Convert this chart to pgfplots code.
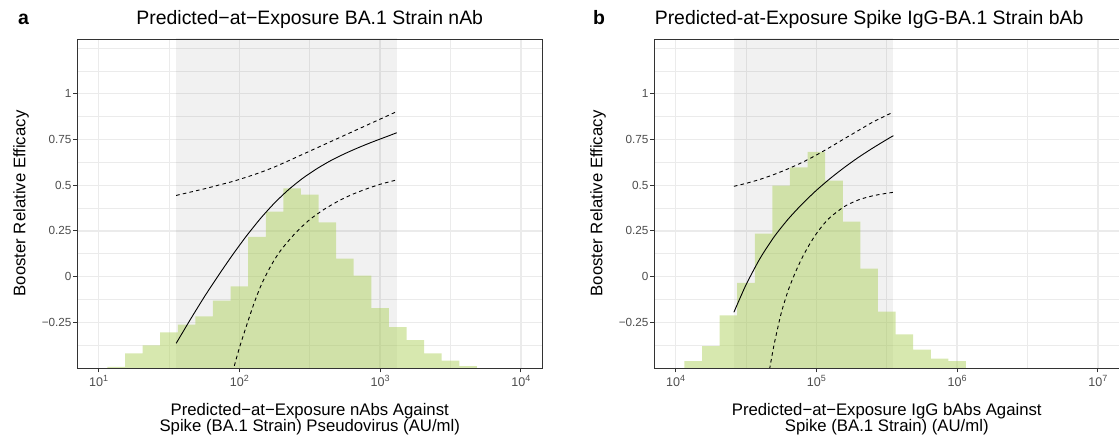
\documentclass[border=0pt]{standalone}
\usepackage{pgfplots}
\pgfplotsset{compat=1.18}
\usepackage{fontspec}
\setmainfont{Liberation Sans}
\definecolor{gridc}{RGB}{235,235,235}
\definecolor{framec}{RGB}{51,51,51}
\definecolor{tickc}{RGB}{77,77,77}
\definecolor{histc}{RGB}{176,210,95}
\newcommand{\sups}[1]{\raisebox{5bp}{\fontsize{9}{10}\selectfont #1}}
\newcommand{\tk}[1]{{\fontsize{12.6}{14}\selectfont 10}\sups{#1}}
\begin{document}
\begin{tikzpicture}[x=1bp,y=1bp]
\useasboundingbox (0,0) rectangle (1119,437);
\pgfplotsset{
  panel/.style={
    scale only axis, width=464.5bp, height=329bp,
    anchor=south west,
    ymin=-0.5, ymax=1.3,
    ytick={-0.25,0,0.25,0.5,0.75,1},
    yticklabels={−0.25,0,0.25,0.5,0.75,1},
    minor ytick={-0.375,-0.125,0.125,0.375,0.625,0.875,1.125,1.25},
    grid=both,
    major grid style={gridc, line width=1.3bp},
    minor grid style={gridc, line width=0.65bp},
    axis line style={framec, line width=0.95bp},
    tick align=outside, xtick pos=bottom, ytick pos=left,
    major tick length=4.3bp, minor tick length=0pt,
    every tick/.style={framec, line width=0.95bp},
    tick label style={font=\fontsize{11.8}{13}\selectfont, text=tickc},
    yticklabel style={inner sep=0pt, xshift=-1.5bp},
    xticklabel style={inner sep=0pt, yshift=-3bp},
    clip=true,
  },
  shade/.style={draw=none, fill=black, fill opacity=0.055},
  hist/.style={draw=none, fill=histc, fill opacity=0.5, const plot},
  fit/.style={black, line width=0.9bp, smooth, tension=0.4},
  ci/.style={black, line width=0.9bp, dash pattern=on 3.6bp off 3.2bp, smooth, tension=0.4},
}
% ---------------- panel a ----------------
\begin{axis}[panel, at={(77.5bp,69bp)},
  xmin=0.85, xmax=4.15,
  xtick={1,2,3,4}, xticklabels={\tk{1},\tk{2},\tk{3},\tk{4}},
  minor xtick={1.5,2.5,3.5}]
\addplot[shade] coordinates {(1.551,-0.6) (1.551,1.4) (3.118,1.4) (3.118,-0.6)};
\addplot[hist] coordinates {
(1.0625,-0.5) (1.0625,-0.494) (1.1875,-0.42) (1.3125,-0.376) (1.4375,-0.305)
(1.5625,-0.263) (1.6875,-0.217) (1.8125,-0.131) (1.9375,-0.053) (2.0625,0.217)
(2.1875,0.356) (2.3125,0.483) (2.4375,0.449) (2.5625,0.297) (2.6875,0.098)
(2.8125,0.005) (2.9375,-0.173) (3.0625,-0.277) (3.1875,-0.348) (3.3125,-0.42)
(3.4375,-0.46) (3.5625,-0.49) (3.6875,-0.49) (3.6875,-0.5)};
\addplot[fit] coordinates {
(1.551,-0.365) (1.65,-0.237) (1.75,-0.112) (1.85,0.005) (1.95,0.117) (2.05,0.222)
(2.15,0.318) (2.25,0.403) (2.35,0.476) (2.45,0.538) (2.55,0.59) (2.65,0.635)
(2.75,0.673) (2.85,0.707) (2.95,0.738) (3.05,0.767) (3.118,0.787)};
\addplot[ci] coordinates {
(1.551,0.444) (1.65,0.462) (1.75,0.48) (1.85,0.50) (1.95,0.52) (2.05,0.544)
(2.15,0.57) (2.25,0.60) (2.35,0.634) (2.45,0.669) (2.55,0.704) (2.65,0.739)
(2.75,0.774) (2.85,0.809) (2.95,0.844) (3.05,0.879) (3.118,0.903)};
\addplot[ci] coordinates {
(1.94,-0.56) (1.96,-0.5) (2.0,-0.39) (2.05,-0.27) (2.1,-0.155) (2.15,-0.055)
(2.2,0.025) (2.25,0.093) (2.3,0.15) (2.4,0.24) (2.5,0.312) (2.6,0.367)
(2.7,0.412) (2.8,0.449) (2.9,0.479) (3.0,0.505) (3.118,0.529)};
\end{axis}
% ---------------- panel b ----------------
\begin{axis}[panel, at={(654.5bp,69bp)},
  xmin=3.85, xmax=7.15,
  xtick={4,5,6,7}, xticklabels={\tk{4},\tk{5},\tk{6},\tk{7}},
  minor xtick={4.5,5.5,6.5}]
\addplot[shade] coordinates {(4.414,-0.6) (4.414,1.4) (5.547,1.4) (5.547,-0.6)};
\addplot[hist] coordinates {
(4.0625,-0.5) (4.0625,-0.463) (4.1875,-0.381) (4.3125,-0.212) (4.4375,-0.035)
(4.5625,0.235) (4.6875,0.498) (4.8125,0.598) (4.9375,0.682) (5.0625,0.525)
(5.1875,0.301) (5.3125,0.044) (5.4375,-0.191) (5.5625,-0.316) (5.6875,-0.399)
(5.8125,-0.449) (5.9375,-0.463) (6.0625,-0.463) (6.0625,-0.5)};
\addplot[fit] coordinates {
(4.414,-0.195) (4.5,-0.045) (4.6,0.10) (4.7,0.218) (4.8,0.315) (4.9,0.398)
(5.0,0.472) (5.1,0.538) (5.2,0.598) (5.3,0.653) (5.4,0.703) (5.5,0.75) (5.547,0.771)};
\addplot[ci] coordinates {
(4.414,0.494) (4.5,0.51) (4.6,0.532) (4.7,0.559) (4.8,0.59) (4.9,0.625)
(5.0,0.665) (5.1,0.709) (5.2,0.755) (5.3,0.80) (5.4,0.845) (5.5,0.883) (5.547,0.90)};
\addplot[ci] coordinates {
(4.65,-0.58) (4.669,-0.5) (4.7,-0.37) (4.75,-0.2) (4.8,-0.075) (4.85,0.022)
(4.9,0.105) (4.95,0.175) (5.0,0.235) (5.05,0.285) (5.1,0.326) (5.2,0.384)
(5.3,0.42) (5.4,0.442) (5.5,0.456) (5.547,0.461)};
\end{axis}
% ---------------- texts ----------------
\node[anchor=base west, inner sep=0pt, font=\bfseries\fontsize{19.5}{23}\selectfont] at (18,412) {a};
\node[anchor=base west, inner sep=0pt, font=\bfseries\fontsize{19.5}{23}\selectfont] at (593,412) {b};
\node[anchor=base, inner sep=0pt, font=\fontsize{19.5}{23}\selectfont] at (309.75,412) {Predicted−at−Exposure BA.1 Strain nAb};
\node[anchor=base west, inner sep=0pt, font=\fontsize{19.5}{23}\selectfont] at (654.6,412) {Predicted-at-Exposure Spike IgG-BA.1 Strain bAb};
\node[rotate=90, anchor=base, inner sep=0pt, font=\fontsize{16.8}{20}\selectfont] at (25.3,233.5) {Booster Relative Efficacy};
\node[rotate=90, anchor=base, inner sep=0pt, font=\fontsize{16.8}{20}\selectfont] at (602.3,233.5) {Booster Relative Efficacy};
\node[anchor=base, inner sep=0pt, font=\fontsize{16.8}{20}\selectfont] at (309.75,21.7) {Predicted−at−Exposure nAbs Against};
\node[anchor=base, inner sep=0pt, font=\fontsize{16.8}{20}\selectfont] at (309.75,5.5) {Spike (BA.1 Strain) Pseudovirus (AU/ml)};
\node[anchor=base, inner sep=0pt, font=\fontsize{16.8}{20}\selectfont] at (886.75,21.7) {Predicted−at−Exposure IgG bAbs Against};
\node[anchor=base, inner sep=0pt, font=\fontsize{16.8}{20}\selectfont] at (886.75,5.5) {Spike (BA.1 Strain) (AU/ml)};
\end{tikzpicture}
\end{document}
